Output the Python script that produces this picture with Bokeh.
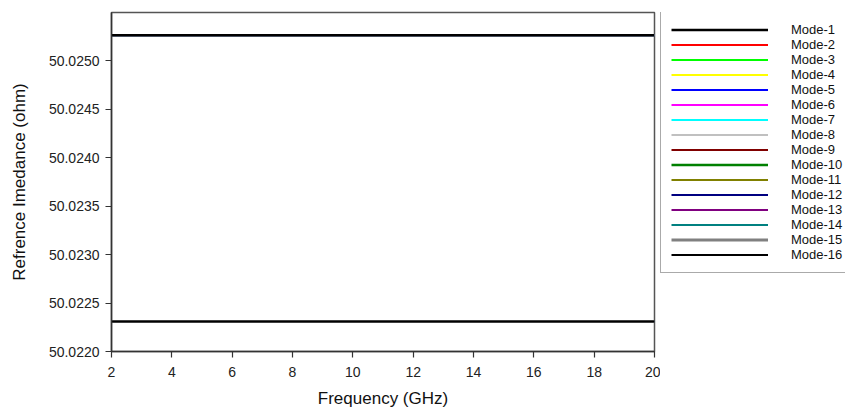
from bokeh.plotting import figure
from bokeh.layouts import row
from bokeh.models import Legend, LegendItem, FixedTicker, NumeralTickFormatter, Range1d
from bokeh.embed import file_html
from bokeh.resources import INLINE

# ---- data ----
freq_ghz = [2, 4, 6, 8, 10, 12, 14, 16, 18, 20]
mode_names = ["Mode-1", "Mode-2", "Mode-3", "Mode-4", "Mode-5", "Mode-6", "Mode-7", "Mode-8",
              "Mode-9", "Mode-10", "Mode-11", "Mode-12", "Mode-13", "Mode-14", "Mode-15", "Mode-16"]
mode_impedance = [50.025264, 50.025264, 50.025264, 50.025264, 50.025264, 50.025264, 50.025264, 50.025264,
                  50.022309, 50.022309, 50.022309, 50.022309, 50.022309, 50.022309, 50.022309, 50.022309]
y_ticks = [50.0220, 50.0225, 50.0230, 50.0235, 50.0240, 50.0245, 50.0250]
x_ticks = [2, 4, 6, 8, 10, 12, 14, 16, 18, 20]

# ---- styles ----
mode_colors = ["#000000", "#ff0000", "#00ff00", "#ffff00", "#0000ff", "#ff00ff", "#00ffff", "#c0c0c0",
               "#800000", "#008000", "#808000", "#000080", "#800080", "#008080", "#808080", "#000000"]
mode_widths = [2.5, 2, 2, 2, 2, 2, 2, 2, 2, 2.5, 2, 2, 2, 2, 3, 2]
FONT = "Liberation Sans"

p = figure(width=660, height=410, output_backend="svg", toolbar_location=None,
           x_range=Range1d(2, 20), y_range=Range1d(50.0220, 50.0255),
           min_border_left=111, min_border_right=6, min_border_top=12, min_border_bottom=58)
p.grid.visible = False
p.outline_line_color = "#555555"
p.outline_line_width = 1.5
p.background_fill_color = "white"
p.border_fill_color = "white"

p.yaxis.ticker = FixedTicker(ticks=y_ticks)
p.yaxis.formatter = NumeralTickFormatter(format="0.0000")
p.xaxis.ticker = FixedTicker(ticks=x_ticks)
for ax in (p.xaxis[0], p.yaxis[0]):
    ax.axis_line_color = "#333333"
    ax.axis_line_width = 1.5
    ax.major_tick_line_color = "#333333"
    ax.major_tick_line_width = 1.2
    ax.major_tick_out = 6
    ax.major_tick_in = 0
    ax.minor_tick_out = 0
    ax.minor_tick_in = 0
    ax.major_label_text_font = FONT
    ax.major_label_text_font_size = "14px"
    ax.major_label_text_color = "#222222"
    ax.axis_label_text_font = FONT
    ax.axis_label_text_font_size = "17px"
    ax.axis_label_text_font_style = "normal"
    ax.axis_label_text_color = "#111111"

p.yaxis.major_label_standoff = 6
p.xaxis.major_label_standoff = 9
p.xaxis.axis_label = "Frequency (GHz)"
p.yaxis.axis_label = "Refrence Imedance (ohm)"
p.xaxis.axis_label_standoff = 9
p.yaxis.axis_label_standoff = 17

order = list(range(1, 15)) + [0, 15]
for i in order:
    p.line(freq_ghz, [mode_impedance[i]] * len(freq_ghz),
           line_color=mode_colors[i], line_width=mode_widths[i])

# ---- legend panel (separate figure to the right of the plot) ----
lg = figure(width=185, height=410, output_backend="svg", toolbar_location=None,
            x_range=Range1d(0, 1), y_range=Range1d(0, 1),
            x_axis_type=None, y_axis_type=None,
            min_border_left=0, min_border_right=0, min_border_top=0, min_border_bottom=0)
lg.grid.visible = False
lg.outline_line_color = None
lg.background_fill_color = "white"
lg.border_fill_color = "white"

leg_renderers = {}
for i in range(16):
    # same series as the main plot; outside this panel's view, only used for legend glyphs
    leg_renderers[i] = lg.line(freq_ghz, [mode_impedance[i]] * len(freq_ghz),
                               line_color=mode_colors[i], line_width=mode_widths[i])

items = [LegendItem(label=mode_names[i], renderers=[leg_renderers[i]]) for i in range(16)]
legend = Legend(items=items, location=(0, 78),
                glyph_width=97, glyph_height=15, label_height=15, label_standoff=23,
                padding=10, spacing=0, margin=0,
                label_text_font=FONT, label_text_font_size="13px", label_text_color="#111111",
                border_line_color="#555555", border_line_width=1.5,
                background_fill_color="white", background_fill_alpha=1.0)
lg.add_layout(legend, "center")

layout = row(p, lg, spacing=0)
open("out.html", "w").write(file_html(layout, INLINE))
